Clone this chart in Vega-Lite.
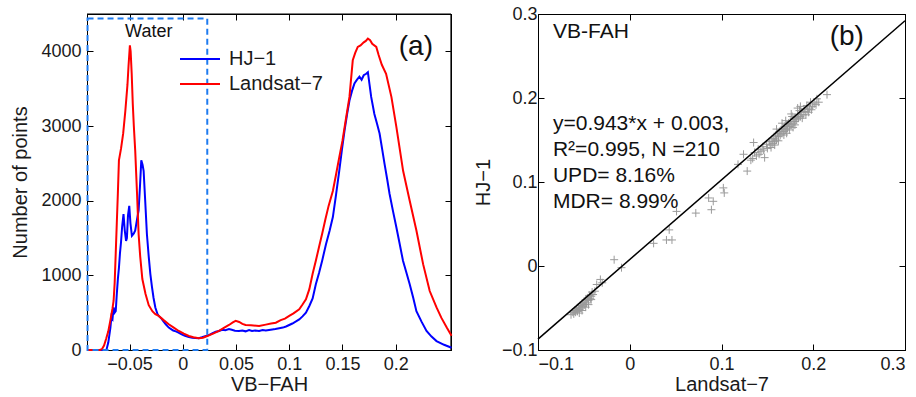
{
  "$schema": "https://vega.github.io/schema/vega-lite/v6.json",
  "padding": {"left": 10, "top": 4, "right": 0, "bottom": 0},
  "config": {
    "font": "Liberation Sans",
    "view": {"stroke": "#000", "strokeWidth": 1},
    "axis": {"grid": false, "domain": true, "ticks": true, "domainColor": "#000", "domainWidth": 1, "tickColor": "#000", "tickWidth": 1, "labelColor": "#1a1a1a", "titleColor": "#1a1a1a", "labelFontSize": 18, "titleFontSize": 20, "titleFontWeight": "normal", "tickSize": -6, "labelPadding": 12, "labelFont": "Liberation Sans", "titleFont": "Liberation Sans"}
  },
  "datasets": {
    "hist": [
      {"s":"HJ−1","x":-0.09,"y":0},{"s":"HJ−1","x":-0.075,"y":0},{"s":"HJ−1","x":-0.0717,"y":5},{"s":"HJ−1","x":-0.07,"y":100},{"s":"HJ−1","x":-0.068,"y":300},{"s":"HJ−1","x":-0.067,"y":450},{"s":"HJ−1","x":-0.066,"y":420},{"s":"HJ−1","x":-0.065,"y":570},{"s":"HJ−1","x":-0.064,"y":500},{"s":"HJ−1","x":-0.063,"y":520},{"s":"HJ−1","x":-0.062,"y":750},{"s":"HJ−1","x":-0.061,"y":950},{"s":"HJ−1","x":-0.06,"y":1100},{"s":"HJ−1","x":-0.059,"y":1300},{"s":"HJ−1","x":-0.058,"y":1450},{"s":"HJ−1","x":-0.057,"y":1650},{"s":"HJ−1","x":-0.0557,"y":1820},{"s":"HJ−1","x":-0.0545,"y":1600},{"s":"HJ−1","x":-0.0533,"y":1460},{"s":"HJ−1","x":-0.0525,"y":1500},{"s":"HJ−1","x":-0.0515,"y":1800},{"s":"HJ−1","x":-0.0503,"y":1930},{"s":"HJ−1","x":-0.0492,"y":1700},{"s":"HJ−1","x":-0.0478,"y":1530},{"s":"HJ−1","x":-0.046,"y":1560},{"s":"HJ−1","x":-0.0447,"y":1600},{"s":"HJ−1","x":-0.043,"y":1750},{"s":"HJ−1","x":-0.0415,"y":1870},{"s":"HJ−1","x":-0.0402,"y":2200},{"s":"HJ−1","x":-0.039,"y":2540},{"s":"HJ−1","x":-0.0378,"y":2480},{"s":"HJ−1","x":-0.0368,"y":2400},{"s":"HJ−1","x":-0.0355,"y":2050},{"s":"HJ−1","x":-0.0337,"y":1550},{"s":"HJ−1","x":-0.032,"y":1250},{"s":"HJ−1","x":-0.0305,"y":1020},{"s":"HJ−1","x":-0.029,"y":850},{"s":"HJ−1","x":-0.0275,"y":700},{"s":"HJ−1","x":-0.0258,"y":570},{"s":"HJ−1","x":-0.024,"y":490},{"s":"HJ−1","x":-0.0226,"y":456},{"s":"HJ−1","x":-0.02,"y":420},{"s":"HJ−1","x":-0.018,"y":380},{"s":"HJ−1","x":-0.016,"y":345},{"s":"HJ−1","x":-0.0132,"y":300},{"s":"HJ−1","x":-0.011,"y":280},{"s":"HJ−1","x":-0.009,"y":260},{"s":"HJ−1","x":-0.0065,"y":250},{"s":"HJ−1","x":-0.004,"y":234},{"s":"HJ−1","x":-0.001,"y":210},{"s":"HJ−1","x":0.002,"y":190},{"s":"HJ−1","x":0.0057,"y":175},{"s":"HJ−1","x":0.009,"y":165},{"s":"HJ−1","x":0.012,"y":160},{"s":"HJ−1","x":0.015,"y":157},{"s":"HJ−1","x":0.018,"y":170},{"s":"HJ−1","x":0.021,"y":185},{"s":"HJ−1","x":0.0245,"y":200},{"s":"HJ−1","x":0.028,"y":225},{"s":"HJ−1","x":0.031,"y":245},{"s":"HJ−1","x":0.034,"y":255},{"s":"HJ−1","x":0.037,"y":270},{"s":"HJ−1","x":0.04,"y":265},{"s":"HJ−1","x":0.0434,"y":280},{"s":"HJ−1","x":0.046,"y":270},{"s":"HJ−1","x":0.049,"y":258},{"s":"HJ−1","x":0.0528,"y":255},{"s":"HJ−1","x":0.056,"y":262},{"s":"HJ−1","x":0.059,"y":250},{"s":"HJ−1","x":0.0623,"y":268},{"s":"HJ−1","x":0.065,"y":255},{"s":"HJ−1","x":0.068,"y":262},{"s":"HJ−1","x":0.0717,"y":255},{"s":"HJ−1","x":0.075,"y":268},{"s":"HJ−1","x":0.078,"y":260},{"s":"HJ−1","x":0.081,"y":268},{"s":"HJ−1","x":0.084,"y":275},{"s":"HJ−1","x":0.087,"y":280},{"s":"HJ−1","x":0.0906,"y":290},{"s":"HJ−1","x":0.094,"y":300},{"s":"HJ−1","x":0.097,"y":315},{"s":"HJ−1","x":0.1,"y":335},{"s":"HJ−1","x":0.103,"y":355},{"s":"HJ−1","x":0.106,"y":380},{"s":"HJ−1","x":0.1094,"y":410},{"s":"HJ−1","x":0.1125,"y":450},{"s":"HJ−1","x":0.1157,"y":500},{"s":"HJ−1","x":0.1189,"y":590},{"s":"HJ−1","x":0.122,"y":690},{"s":"HJ−1","x":0.125,"y":880},{"s":"HJ−1","x":0.128,"y":1030},{"s":"HJ−1","x":0.131,"y":1200},{"s":"HJ−1","x":0.1346,"y":1420},{"s":"HJ−1","x":0.138,"y":1600},{"s":"HJ−1","x":0.141,"y":1780},{"s":"HJ−1","x":0.144,"y":2080},{"s":"HJ−1","x":0.147,"y":2400},{"s":"HJ−1","x":0.1495,"y":2680},{"s":"HJ−1","x":0.152,"y":2940},{"s":"HJ−1","x":0.1545,"y":3170},{"s":"HJ−1","x":0.1566,"y":3340},{"s":"HJ−1","x":0.159,"y":3470},{"s":"HJ−1","x":0.1613,"y":3570},{"s":"HJ−1","x":0.1637,"y":3620},{"s":"HJ−1","x":0.166,"y":3660},{"s":"HJ−1","x":0.168,"y":3620},{"s":"HJ−1","x":0.17,"y":3680},{"s":"HJ−1","x":0.1723,"y":3700},{"s":"HJ−1","x":0.1739,"y":3720},{"s":"HJ−1","x":0.1755,"y":3550},{"s":"HJ−1","x":0.177,"y":3390},{"s":"HJ−1","x":0.18,"y":3160},{"s":"HJ−1","x":0.1825,"y":3030},{"s":"HJ−1","x":0.1849,"y":2900},{"s":"HJ−1","x":0.1872,"y":2700},{"s":"HJ−1","x":0.1896,"y":2490},{"s":"HJ−1","x":0.192,"y":2290},{"s":"HJ−1","x":0.1943,"y":2090},{"s":"HJ−1","x":0.1975,"y":1860},{"s":"HJ−1","x":0.2007,"y":1640},{"s":"HJ−1","x":0.2038,"y":1420},{"s":"HJ−1","x":0.2069,"y":1195},{"s":"HJ−1","x":0.21,"y":1040},{"s":"HJ−1","x":0.2132,"y":880},{"s":"HJ−1","x":0.2165,"y":700},{"s":"HJ−1","x":0.2195,"y":520},{"s":"HJ−1","x":0.2243,"y":380},{"s":"HJ−1","x":0.229,"y":255},{"s":"HJ−1","x":0.2337,"y":180},{"s":"HJ−1","x":0.2384,"y":120},{"s":"HJ−1","x":0.2455,"y":70},{"s":"HJ−1","x":0.2525,"y":30},
      {"s":"Landsat−7","x":-0.09,"y":0},{"s":"Landsat−7","x":-0.078,"y":0},{"s":"Landsat−7","x":-0.076,"y":10},{"s":"Landsat−7","x":-0.074,"y":60},{"s":"Landsat−7","x":-0.072,"y":150},{"s":"Landsat−7","x":-0.07,"y":250},{"s":"Landsat−7","x":-0.068,"y":400},{"s":"Landsat−7","x":-0.066,"y":560},{"s":"Landsat−7","x":-0.065,"y":660},{"s":"Landsat−7","x":-0.064,"y":900},{"s":"Landsat−7","x":-0.063,"y":1300},{"s":"Landsat−7","x":-0.062,"y":1700},{"s":"Landsat−7","x":-0.061,"y":2100},{"s":"Landsat−7","x":-0.06,"y":2540},{"s":"Landsat−7","x":-0.058,"y":2700},{"s":"Landsat−7","x":-0.056,"y":2900},{"s":"Landsat−7","x":-0.054,"y":3200},{"s":"Landsat−7","x":-0.052,"y":3550},{"s":"Landsat−7","x":-0.051,"y":3800},{"s":"Landsat−7","x":-0.0497,"y":4080},{"s":"Landsat−7","x":-0.049,"y":4000},{"s":"Landsat−7","x":-0.048,"y":3700},{"s":"Landsat−7","x":-0.047,"y":3300},{"s":"Landsat−7","x":-0.046,"y":3000},{"s":"Landsat−7","x":-0.0447,"y":2670},{"s":"Landsat−7","x":-0.043,"y":2100},{"s":"Landsat−7","x":-0.0415,"y":1550},{"s":"Landsat−7","x":-0.04,"y":1250},{"s":"Landsat−7","x":-0.038,"y":950},{"s":"Landsat−7","x":-0.035,"y":750},{"s":"Landsat−7","x":-0.032,"y":600},{"s":"Landsat−7","x":-0.0286,"y":520},{"s":"Landsat−7","x":-0.0258,"y":480},{"s":"Landsat−7","x":-0.0226,"y":456},{"s":"Landsat−7","x":-0.018,"y":400},{"s":"Landsat−7","x":-0.0132,"y":345},{"s":"Landsat−7","x":-0.0085,"y":300},{"s":"Landsat−7","x":-0.0038,"y":255},{"s":"Landsat−7","x":0.001,"y":220},{"s":"Landsat−7","x":0.0057,"y":188},{"s":"Landsat−7","x":0.01,"y":170},{"s":"Landsat−7","x":0.0151,"y":157},{"s":"Landsat−7","x":0.019,"y":165},{"s":"Landsat−7","x":0.023,"y":188},{"s":"Landsat−7","x":0.0285,"y":220},{"s":"Landsat−7","x":0.034,"y":255},{"s":"Landsat−7","x":0.039,"y":300},{"s":"Landsat−7","x":0.0434,"y":335},{"s":"Landsat−7","x":0.047,"y":370},{"s":"Landsat−7","x":0.0497,"y":390},{"s":"Landsat−7","x":0.053,"y":375},{"s":"Landsat−7","x":0.056,"y":350},{"s":"Landsat−7","x":0.059,"y":335},{"s":"Landsat−7","x":0.064,"y":330},{"s":"Landsat−7","x":0.0717,"y":322},{"s":"Landsat−7","x":0.078,"y":340},{"s":"Landsat−7","x":0.083,"y":355},{"s":"Landsat−7","x":0.0874,"y":366},{"s":"Landsat−7","x":0.092,"y":400},{"s":"Landsat−7","x":0.096,"y":420},{"s":"Landsat−7","x":0.1,"y":456},{"s":"Landsat−7","x":0.104,"y":490},{"s":"Landsat−7","x":0.1094,"y":546},{"s":"Landsat−7","x":0.1125,"y":610},{"s":"Landsat−7","x":0.1157,"y":680},{"s":"Landsat−7","x":0.1189,"y":815},{"s":"Landsat−7","x":0.122,"y":1020},{"s":"Landsat−7","x":0.125,"y":1195},{"s":"Landsat−7","x":0.128,"y":1380},{"s":"Landsat−7","x":0.131,"y":1560},{"s":"Landsat−7","x":0.134,"y":1750},{"s":"Landsat−7","x":0.137,"y":1930},{"s":"Landsat−7","x":0.141,"y":2130},{"s":"Landsat−7","x":0.144,"y":2350},{"s":"Landsat−7","x":0.147,"y":2580},{"s":"Landsat−7","x":0.15,"y":2800},{"s":"Landsat−7","x":0.1533,"y":3100},{"s":"Landsat−7","x":0.1566,"y":3390},{"s":"Landsat−7","x":0.1597,"y":3880},{"s":"Landsat−7","x":0.162,"y":3980},{"s":"Landsat−7","x":0.1644,"y":4060},{"s":"Landsat−7","x":0.167,"y":4080},{"s":"Landsat−7","x":0.17,"y":4120},{"s":"Landsat−7","x":0.172,"y":4140},{"s":"Landsat−7","x":0.1739,"y":4170},{"s":"Landsat−7","x":0.176,"y":4150},{"s":"Landsat−7","x":0.178,"y":4100},{"s":"Landsat−7","x":0.1818,"y":4060},{"s":"Landsat−7","x":0.184,"y":3950},{"s":"Landsat−7","x":0.187,"y":3820},{"s":"Landsat−7","x":0.191,"y":3700},{"s":"Landsat−7","x":0.196,"y":3390},{"s":"Landsat−7","x":0.2007,"y":2985},{"s":"Landsat−7","x":0.207,"y":2400},{"s":"Landsat−7","x":0.2132,"y":2000},{"s":"Landsat−7","x":0.2195,"y":1600},{"s":"Landsat−7","x":0.2258,"y":1150},{"s":"Landsat−7","x":0.232,"y":790},{"s":"Landsat−7","x":0.2384,"y":570},{"s":"Landsat−7","x":0.243,"y":430},{"s":"Landsat−7","x":0.248,"y":300},{"s":"Landsat−7","x":0.2525,"y":190}
    ],
    "pts": [
      {"l":0.215,"h":0.204},{"l":0.206,"h":0.195},{"l":0.204,"h":0.199},{"l":0.201,"h":0.193},{"l":0.199,"h":0.19},{"l":0.197,"h":0.195},{"l":0.196,"h":0.188},{"l":0.194,"h":0.186},{"l":0.193,"h":0.191},{"l":0.191,"h":0.184},{"l":0.19,"h":0.187},{"l":0.189,"h":0.18},{"l":0.187,"h":0.183},{"l":0.186,"h":0.178},{"l":0.185,"h":0.185},{"l":0.184,"h":0.176},{"l":0.183,"h":0.18},{"l":0.182,"h":0.174},{"l":0.181,"h":0.177},{"l":0.18,"h":0.172},{"l":0.179,"h":0.175},{"l":0.178,"h":0.17},{"l":0.177,"h":0.178},{"l":0.176,"h":0.168},{"l":0.175,"h":0.172},{"l":0.174,"h":0.166},{"l":0.173,"h":0.17},{"l":0.172,"h":0.164},{"l":0.171,"h":0.168},{"l":0.17,"h":0.162},{"l":0.169,"h":0.166},{"l":0.168,"h":0.16},{"l":0.167,"h":0.164},{"l":0.166,"h":0.158},{"l":0.165,"h":0.162},{"l":0.164,"h":0.156},{"l":0.163,"h":0.16},{"l":0.162,"h":0.154},{"l":0.161,"h":0.158},{"l":0.16,"h":0.15},{"l":0.159,"h":0.155},{"l":0.158,"h":0.148},{"l":0.157,"h":0.152},{"l":0.156,"h":0.146},{"l":0.155,"h":0.15},{"l":0.153,"h":0.144},{"l":0.152,"h":0.148},{"l":0.15,"h":0.14},{"l":0.149,"h":0.145},{"l":0.147,"h":0.129},{"l":0.146,"h":0.138},{"l":0.145,"h":0.142},{"l":0.143,"h":0.136},{"l":0.141,"h":0.133},{"l":0.14,"h":0.139},{"l":0.138,"h":0.131},{"l":0.136,"h":0.135},{"l":0.135,"h":0.147},{"l":0.134,"h":0.128},{"l":0.132,"h":0.126},{"l":0.124,"h":0.133},{"l":0.128,"h":0.113},{"l":0.118,"h":0.121},{"l":0.17,"h":0.173},{"l":0.176,"h":0.181},{"l":0.186,"h":0.19},{"l":0.166,"h":0.17},{"l":0.16,"h":0.163},{"l":0.183,"h":0.188},{"l":0.192,"h":0.18},{"l":0.188,"h":0.176},{"l":0.18,"h":0.168},{"l":0.174,"h":0.162},{"l":0.168,"h":0.156},{"l":0.178,"h":0.165},{"l":0.195,"h":0.183},{"l":0.198,"h":0.186},{"l":0.203,"h":0.192},{"l":0.158,"h":0.144},{"l":0.154,"h":0.141},{"l":0.162,"h":0.149},{"l":0.171,"h":0.158},
      {"l":0.102,"h":0.093},{"l":0.103,"h":0.087},{"l":0.086,"h":0.081},{"l":0.091,"h":0.077},{"l":0.089,"h":0.067},{"l":0.072,"h":0.063},{"l":0.051,"h":0.065},{"l":0.043,"h":0.043},{"l":0.04,"h":0.031},{"l":0.046,"h":0.031},{"l":0.026,"h":0.027},{"l":-0.017,"h":0.0075},{"l":-0.009,"h":-0.002},{"l":-0.032,"h":-0.016},{"l":-0.036,"h":-0.022},{"l":-0.03,"h":-0.02},
      {"l":-0.038,"h":-0.03},{"l":-0.04,"h":-0.034},{"l":-0.041,"h":-0.031},{"l":-0.042,"h":-0.036},{"l":-0.043,"h":-0.039},{"l":-0.044,"h":-0.035},{"l":-0.045,"h":-0.041},{"l":-0.046,"h":-0.038},{"l":-0.047,"h":-0.044},{"l":-0.048,"h":-0.04},{"l":-0.049,"h":-0.046},{"l":-0.05,"h":-0.043},{"l":-0.051,"h":-0.048},{"l":-0.052,"h":-0.045},{"l":-0.053,"h":-0.05},{"l":-0.054,"h":-0.047},{"l":-0.055,"h":-0.052},{"l":-0.056,"h":-0.049},{"l":-0.057,"h":-0.054},{"l":-0.058,"h":-0.051},{"l":-0.059,"h":-0.055},{"l":-0.06,"h":-0.053},{"l":-0.061,"h":-0.057},{"l":-0.062,"h":-0.055},{"l":-0.064,"h":-0.058},{"l":-0.045,"h":-0.046},{"l":-0.048,"h":-0.049},{"l":-0.052,"h":-0.053},{"l":-0.042,"h":-0.04},{"l":-0.055,"h":-0.056}
    ],
    "one": [{"k": 1}]
  },
  "spacing": 15,
  "resolve": {"scale": {"color": "independent"}, "legend": {"color": "independent"}},
  "hconcat": [
    {
      "width": 364,
      "height": 336,
      "view": {"stroke": "#000", "strokeWidth": 1},
      "layer": [
        {
          "data": {"name": "one"},
          "mark": {"type": "rule", "color": "#000", "strokeWidth": 1.2},
          "encoding": {
            "x": {"datum": -0.09, "type": "quantitative", "scale": {"domain": [-0.09, 0.252], "nice": false, "zero": false}, "axis": {"orient": "top", "values": [-0.05, 0, 0.05, 0.1, 0.15, 0.2], "labels": false, "title": null}},
            "x2": {"datum": 0.252},
            "y": {"datum": 4500, "type": "quantitative", "scale": {"domain": [0, 4500], "nice": false}, "axis": {"orient": "right", "values": [0, 1000, 2000, 3000, 4000], "labels": false, "title": null}}
          }
        },
        {
          "data": {"name": "one"},
          "mark": {"type": "rule", "color": "#000", "strokeWidth": 1.2},
          "encoding": {
            "x": {"datum": 0.252, "type": "quantitative", "axis": null},
            "y": {"datum": 0, "type": "quantitative", "axis": null},
            "y2": {"datum": 4500}
          }
        },
        {
          "data": {"name": "hist"},
          "mark": {"type": "line", "strokeWidth": 2},
          "encoding": {
            "x": {"field": "x", "type": "quantitative", "scale": {"domain": [-0.09, 0.252], "nice": false, "zero": false},
                  "axis": {"orient": "bottom", "values": [-0.05, 0, 0.05, 0.1, 0.15, 0.2], "format": "~g", "title": "VB−FAH", "titlePadding": 1, "labelPadding": 11}},
            "y": {"field": "y", "type": "quantitative", "scale": {"domain": [0, 4500], "nice": false},
                  "axis": {"orient": "left", "values": [0, 1000, 2000, 3000, 4000], "format": "d", "title": "Number of points", "titlePadding": 10, "labelPadding": 12}},
            "color": {"field": "s", "type": "nominal", "scale": {"domain": ["HJ−1", "Landsat−7"], "range": ["#0000ff", "#ff0000"]},
                      "legend": {"orient": "none", "legendX": 103, "legendY": 35, "title": null, "symbolType": "M-4,0H4", "symbolSize": 100, "symbolStrokeWidth": 2, "labelFontSize": 20, "labelOffset": 19, "rowPadding": 5, "padding": 0, "labelColor": "#1a1a1a", "labelFont": "Liberation Sans"}}
          }
        },
        {
          "data": {"name": "one"},
          "mark": {"type": "rect", "filled": false, "stroke": "#1e7bf0", "strokeDash": [6, 4], "strokeWidth": 2},
          "encoding": {
            "x": {"datum": -0.0895, "type": "quantitative", "axis": null},
            "x2": {"datum": 0.023},
            "y": {"datum": 0, "type": "quantitative", "axis": null},
            "y2": {"datum": 4440}
          }
        },
        {
          "data": {"name": "one"},
          "mark": {"type": "text", "fontSize": 18, "color": "#111", "align": "center", "baseline": "middle"},
          "encoding": {
            "x": {"datum": -0.032, "type": "quantitative", "axis": null},
            "y": {"datum": 4262, "type": "quantitative", "axis": null},
            "text": {"value": "Water"}
          }
        },
        {
          "data": {"name": "one"},
          "mark": {"type": "text", "fontSize": 28, "color": "#111", "align": "center", "baseline": "middle"},
          "encoding": {
            "x": {"datum": 0.219, "type": "quantitative", "axis": null},
            "y": {"datum": 4054, "type": "quantitative", "axis": null},
            "text": {"value": "(a)"}
          }
        }
      ],
      "resolve": {"axis": {"x": "independent", "y": "independent"}}
    },
    {
      "width": 367,
      "height": 336,
      "view": {"stroke": "#000", "strokeWidth": 1},
      "layer": [
        {
          "data": {"name": "pts"},
          "mark": {"type": "point", "shape": "M-1,0H1M0,-1V1", "size": 64, "filled": false, "stroke": "#9a9a9a", "strokeWidth": 1, "opacity": 1},
          "encoding": {
            "x": {"field": "l", "type": "quantitative", "scale": {"domain": [-0.1, 0.3], "nice": false, "zero": false},
                  "axis": {"orient": "bottom", "values": [-0.1, 0, 0.1, 0.2, 0.3], "format": "~g", "title": "Landsat−7", "titlePadding": 1, "labelPadding": 11}},
            "y": {"field": "h", "type": "quantitative", "scale": {"domain": [-0.1, 0.3], "nice": false, "zero": false},
                  "axis": {"orient": "left", "values": [-0.1, 0, 0.1, 0.2, 0.3], "format": "~g", "title": "HJ−1", "titlePadding": 8, "labelPadding": 7}}
          }
        },
        {
          "data": {"name": "one"},
          "mark": {"type": "rule", "color": "#000", "strokeWidth": 1.5},
          "encoding": {
            "x": {"datum": -0.1, "type": "quantitative", "axis": {"orient": "top", "values": [-0.1, 0, 0.1, 0.2, 0.3], "labels": false, "title": null}},
            "y": {"datum": -0.087, "type": "quantitative", "axis": {"orient": "right", "values": [-0.1, 0, 0.1, 0.2, 0.3], "labels": false, "title": null}},
            "x2": {"datum": 0.3},
            "y2": {"datum": 0.292}
          }
        },
        {
          "data": {"name": "one"},
          "mark": {"type": "text", "fontSize": 21, "color": "#111", "align": "left", "baseline": "middle"},
          "encoding": {
            "x": {"datum": -0.0837, "type": "quantitative", "axis": null},
            "y": {"datum": 0.279, "type": "quantitative", "axis": null},
            "text": {"value": "VB-FAH"}
          }
        },
        {
          "data": {"name": "one"},
          "mark": {"type": "text", "fontSize": 21, "color": "#111", "align": "left", "baseline": "middle", "lineHeight": 26},
          "encoding": {
            "x": {"datum": -0.0837, "type": "quantitative", "axis": null},
            "y": {"datum": 0.1692, "type": "quantitative", "axis": null},
            "text": {"value": ["y=0.943*x + 0.003,", "R²=0.995, N =210", "UPD= 8.16%", "MDR= 8.99%"]}
          }
        },
        {
          "data": {"name": "one"},
          "mark": {"type": "text", "fontSize": 28, "color": "#111", "align": "center", "baseline": "middle"},
          "encoding": {
            "x": {"datum": 0.2365, "type": "quantitative", "axis": null},
            "y": {"datum": 0.2731, "type": "quantitative", "axis": null},
            "text": {"value": "(b)"}
          }
        }
      ],
      "resolve": {"axis": {"x": "independent", "y": "independent"}}
    }
  ]
}
